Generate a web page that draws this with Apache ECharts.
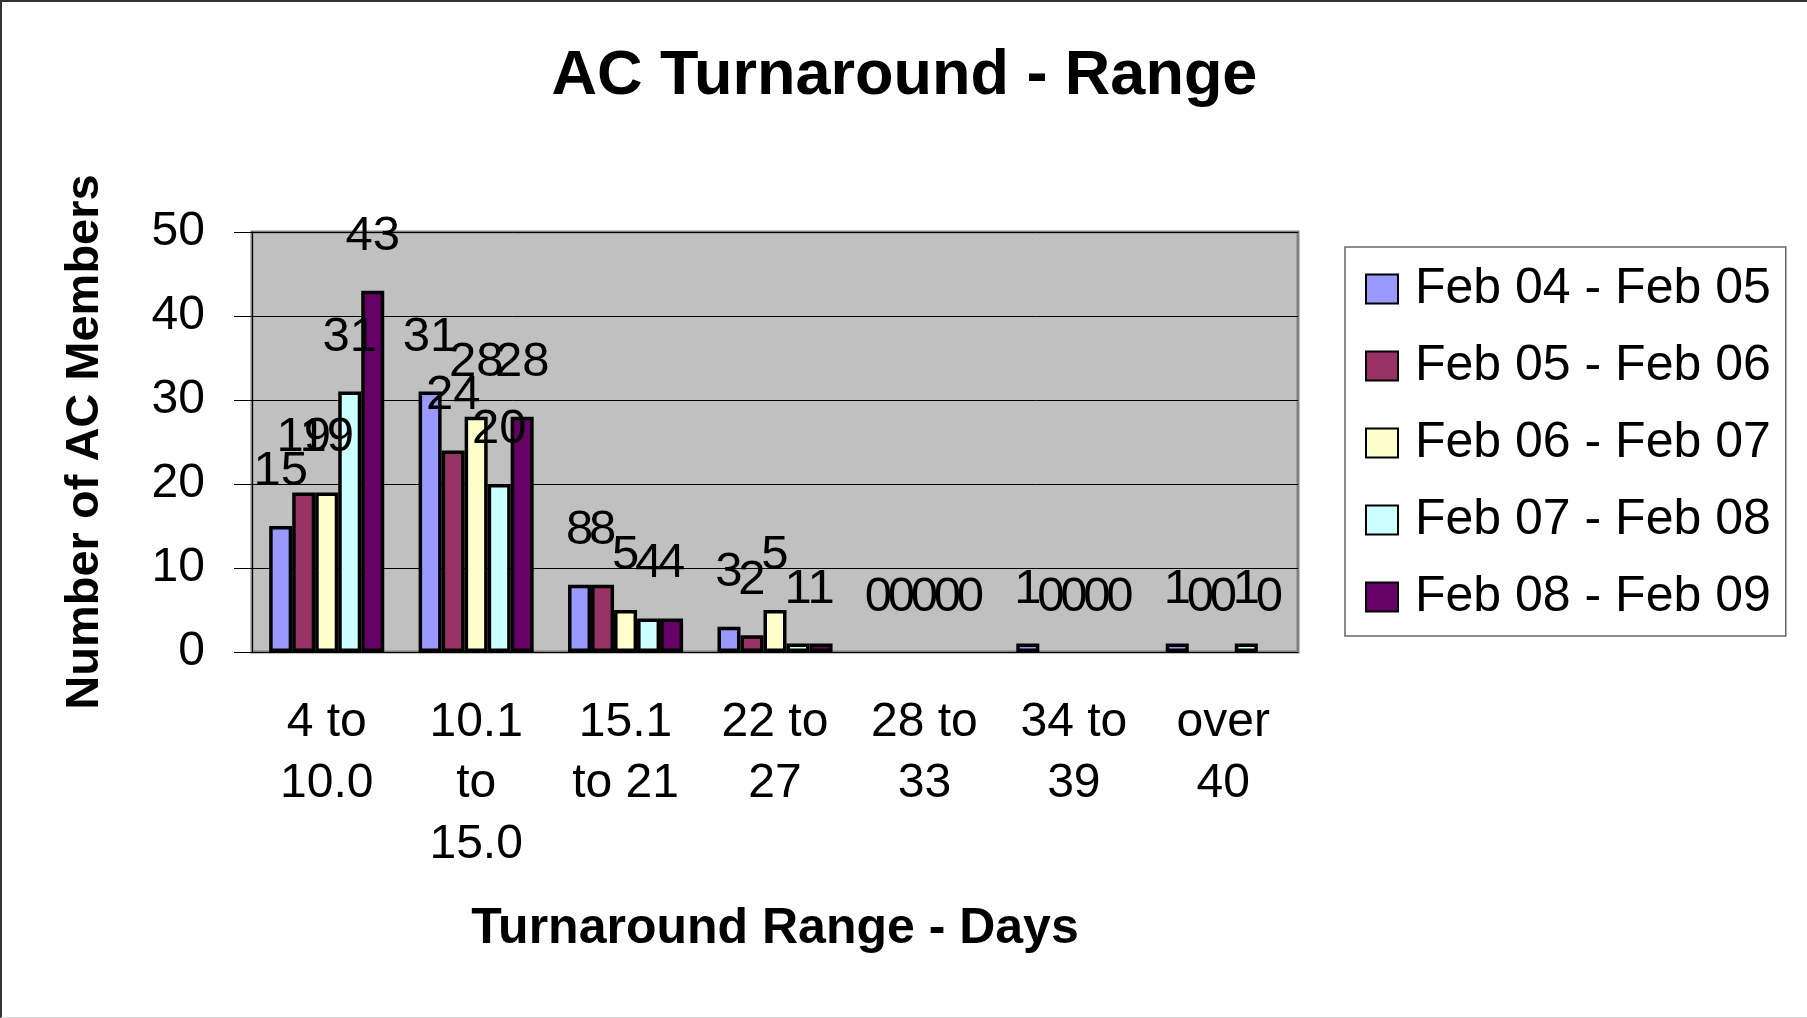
<!DOCTYPE html>
<html>
<head>
<meta charset="utf-8">
<title>AC Turnaround - Range</title>
<script src="https://cdn.jsdelivr.net/npm/echarts@6/dist/echarts.min.js"></script>
<style>
	html, body { margin: 0; padding: 0; background: #fff; }
	#statistics {
		width: 1807px; height: 1018px; box-sizing: border-box;
		border-top: 2px solid #333; border-left: 2px solid #333; border-bottom: 1px solid #ddd;
	}
</style>
</head>
<body>
<div id="statistics"></div>
<script type="text/javascript">
	// 数据
	var categories = ['4 to\n10.0', '10.1\nto\n15.0', '15.1\nto 21', '22 to\n27', '28 to\n33', '34 to\n39', 'over\n40'];
	var seriesNames = ['Feb 04 - Feb 05', 'Feb 05 - Feb 06', 'Feb 06 - Feb 07', 'Feb 07 - Feb 08', 'Feb 08 - Feb 09'];
	var feb04 = [15, 31, 8, 3, 0, 1, 1];
	var feb05 = [19, 24, 8, 2, 0, 0, 0];
	var feb06 = [19, 28, 5, 5, 0, 0, 0];
	var feb07 = [31, 20, 4, 1, 0, 0, 1];
	var feb08 = [43, 28, 4, 1, 0, 0, 0];
	var colors = ['#9999FF', '#993366', '#FFFFCC', '#CCFFFF', '#660066'];

	var font = '"Liberation Sans", Arial, sans-serif';
	var myChart = echarts.init(document.getElementById('statistics'), null, {width: 1805, height: 1015});

	function makeSeries(i, data){
		// 0值柱子不画边框
		var items = data.map(function(v){
			return v === 0 ? {value: v, itemStyle: {borderWidth: 0}} : v;
		});
		return {
			name: seriesNames[i],
			type: 'bar',
			data: items,
			barGap: '0%',
			barCategoryGap: '23%',
			itemStyle: {color: colors[i], borderColor: '#000', borderWidth: 3.5},
			label: {
				show: true,
				position: 'top',
				distance: 30,
				color: '#000',
				fontFamily: font,
				fontSize: 49
			}
		};
	}

	option = {
		animation: false,
		title: {
			text: 'AC Turnaround - Range',
			left: 'center',
			top: 38,
			textStyle: {fontFamily: font, fontSize: 63, fontWeight: 'bold', color: '#000'}
		},
		legend: {
			orient: 'vertical',
			left: 1343,
			top: 245,
			padding: [17, 15, 14, 20],
			itemGap: 27,
			itemWidth: 32,
			itemHeight: 29,
			icon: 'rect',
			borderColor: '#666',
			borderWidth: 1.5,
			textStyle: {fontFamily: font, fontSize: 50, lineHeight: 50, color: '#000', padding: [0, 0, 0, 12]},
			data: seriesNames
		},
		grid: {
			left: 250,
			top: 230,
			width: 1046,
			height: 420,
			show: true,
			backgroundColor: '#C0C0C0',
			borderColor: '#808080',
			borderWidth: 3
		},
		xAxis: {
			type: 'category',
			data: categories,
			name: 'Turnaround Range - Days',
			nameLocation: 'middle',
			nameGap: 252,
			nameTextStyle: {fontFamily: font, fontSize: 50, fontWeight: 'bold', color: '#000'},
			axisLine: {lineStyle: {color: '#000', width: 1}},
			axisTick: {length: 15, lineStyle: {color: '#000'}},
			axisLabel: {fontFamily: font, fontSize: 48, lineHeight: 61, color: '#000', margin: 40, interval: 0}
		},
		yAxis: {
			type: 'value',
			min: 0,
			max: 50,
			interval: 10,
			name: 'Number of AC Members',
			nameLocation: 'middle',
			nameGap: 143,
			nameTextStyle: {fontFamily: font, fontSize: 47, fontWeight: 'bold', color: '#000'},
			axisLine: {show: true, lineStyle: {color: '#000', width: 1}},
			axisTick: {show: true, length: 18, lineStyle: {color: '#000'}},
			axisLabel: {fontFamily: font, fontSize: 48, color: '#000', margin: 47},
			splitLine: {lineStyle: {color: '#000', width: 1}}
		},
		series: [
			makeSeries(0, feb04),
			makeSeries(1, feb05),
			makeSeries(2, feb06),
			makeSeries(3, feb07),
			makeSeries(4, feb08)
		]
	};
	myChart.setOption(option);
</script>
</body>
</html>
